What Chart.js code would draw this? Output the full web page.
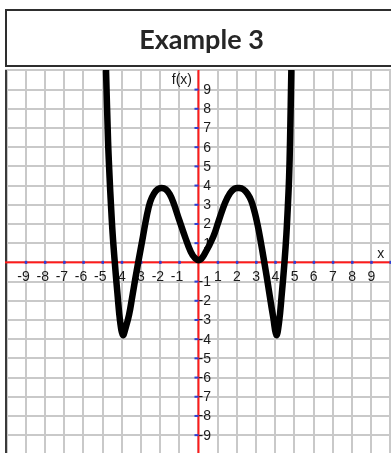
<!DOCTYPE html>
<html>
<head>
<meta charset="utf-8">
<script src="https://cdn.jsdelivr.net/npm/chart.js@4.4.1/dist/chart.umd.min.js"></script>
<style>
  html, body { margin: 0; padding: 0; background: #fff; overflow: hidden; }
  canvas { display: block; }
</style>
</head>
<body>
<canvas id="myChart" width="391" height="453"></canvas>
<script>
const titleText = 'Example 3';

// f(x)
const curveX = [-4.82, -4.71, -4.63, -4.56, -4.47, -4.36, -4.22, -4.08, -3.94, -3.78, -3.62, -3.45, -3.30, -3.14,
  -2.90, -2.70, -2.52, -2.32, -2.12, -1.92, -1.70, -1.50, -1.31, -1.00, -0.70, -0.40, -0.18, 0.05,
  0.30, 0.77, 1.05, 1.38, 1.64, 1.88, 2.12, 2.34, 2.55, 2.75, 2.93, 3.08, 3.20, 3.43,
  3.58, 3.72, 3.90, 4.06, 4.20, 4.34, 4.48, 4.58, 4.66, 4.72, 4.77, 4.84];
const curveY = [10.1, 6.3, 4.4, 3.0, 1.45, 0, -1.65, -3.1, -3.79, -3.35, -2.75, -1.79, -0.9, 0,
  1.3, 2.4, 3.15, 3.58, 3.81, 3.87, 3.8, 3.55, 3.12, 2.2, 1.33, 0.55, 0.22, 0.12,
  0.4, 1.33, 2.15, 3.09, 3.6, 3.84, 3.87, 3.8, 3.58, 3.2, 2.6, 1.95, 1.33, 0,
  -0.9, -1.79, -2.9, -3.79, -3.1, -1.65, 0, 1.45, 3.0, 4.4, 6.3, 10.1];

// graph paper lines and axis numbers
const gridX = [-10, -9, -8, -7, -6, -5, -4, -3, -2, -1, 0, 1, 2, 3, 4, 5, 6, 7, 8, 9, 10];
const gridY = [-9, -8, -7, -6, -5, -4, -3, -2, -1, 0, 1, 2, 3, 4, 5, 6, 7, 8, 9, 10];
const tickX = [-9, -8, -7, -6, -5, -4, -3, -2, -1, 1, 2, 3, 4, 5, 6, 7, 8, 9];
const tickY = [-9, -8, -7, -6, -5, -4, -3, -2, -1, 1, 2, 3, 4, 5, 6, 7, 8, 9];

const titleBox = {
  id: 'titleBox',
  beforeDraw(chart) {
    const ctx = chart.ctx;
    ctx.save();
    ctx.fillStyle = '#fff';
    ctx.fillRect(0, 0, chart.width, chart.height);
    ctx.strokeStyle = '#2e2e2e';
    ctx.lineWidth = 2;
    ctx.strokeRect(6, 10, 400, 56);
    ctx.fillStyle = '#262626';
    ctx.font = 'bold 27px Lato';
    ctx.textAlign = 'center';
    ctx.textBaseline = 'alphabetic';
    ctx.fillText(titleText, 201.5, 49);
    ctx.restore();
  }
};

// red axes, blue tick marks and the numbers, drawn under the curve
const paperAxes = {
  id: 'paperAxes',
  beforeDatasetsDraw(chart) {
    const {ctx, chartArea: a, scales: {x, y}} = chart;
    const x0 = x.getPixelForValue(0);
    const y0 = y.getPixelForValue(0);
    ctx.save();
    ctx.fillStyle = '#3a3a3a';
    ctx.fillRect(a.left, a.top, 2, a.bottom - a.top);

    ctx.fillStyle = '#ff1a1a';
    ctx.fillRect(a.left, y0 - 1, a.right - a.left, 2);
    ctx.fillRect(x0 - 1, a.top, 2, a.bottom - a.top);

    ctx.fillStyle = '#2b3fd6';
    gridX.forEach(v => {
      if (v === 0 || v === -10) return;
      const px = x.getPixelForValue(v);
      ctx.fillRect(px - 1, y0 - 1.5, 2.5, 3);
    });
    tickY.forEach(v => {
      ctx.fillRect(x0 - 4, y.getPixelForValue(v) - 1, 4, 2);
    });

    ctx.fillStyle = '#1a1a1a';
    ctx.font = '14px "Liberation Sans"';
    ctx.textBaseline = 'alphabetic';
    ctx.textAlign = 'right';
    tickX.forEach(v => ctx.fillText(String(v), x.getPixelForValue(v) + 4, y0 + 19));
    tickY.forEach(v => ctx.fillText(String(v), x0 + 12.5, y.getPixelForValue(v) + 4.5));
    ctx.fillText('f(x)', x0 - 6.5, y.getPixelForValue(9) - 5.5);
    ctx.textAlign = 'center';
    ctx.fillText('x', x.getPixelForValue(9.5), y0 - 4);
    ctx.restore();
  }
};

new Chart(document.getElementById('myChart'), {
  type: 'line',
  data: {
    datasets: [{
      data: curveX.map((v, i) => ({x: v, y: curveY[i]})),
      borderColor: '#000',
      borderWidth: 6.5,
      borderJoinStyle: 'round',
      pointRadius: 0,
      tension: 0.4,
      fill: false
    }]
  },
  options: {
    responsive: false,
    animation: false,
    events: [],
    layout: {padding: {left: 5, top: 70, right: 0, bottom: 0}},
    plugins: {legend: {display: false}, tooltip: {enabled: false}, title: {display: false}},
    scales: {
      x: {
        type: 'linear',
        min: -10.08,
        max: 10.03,
        afterBuildTicks: s => { s.ticks = gridX.map(v => ({value: v})); },
        ticks: {display: false},
        border: {display: false},
        grid: {color: '#c9c9c9', lineWidth: 2, drawTicks: false}
      },
      y: {
        type: 'linear',
        min: -9.93,
        max: 10.02,
        afterBuildTicks: s => { s.ticks = gridY.map(v => ({value: v})); },
        ticks: {display: false},
        border: {display: false},
        grid: {color: '#c9c9c9', lineWidth: 2, drawTicks: false}
      }
    }
  },
  plugins: [titleBox, paperAxes]
});
</script>
</body>
</html>
